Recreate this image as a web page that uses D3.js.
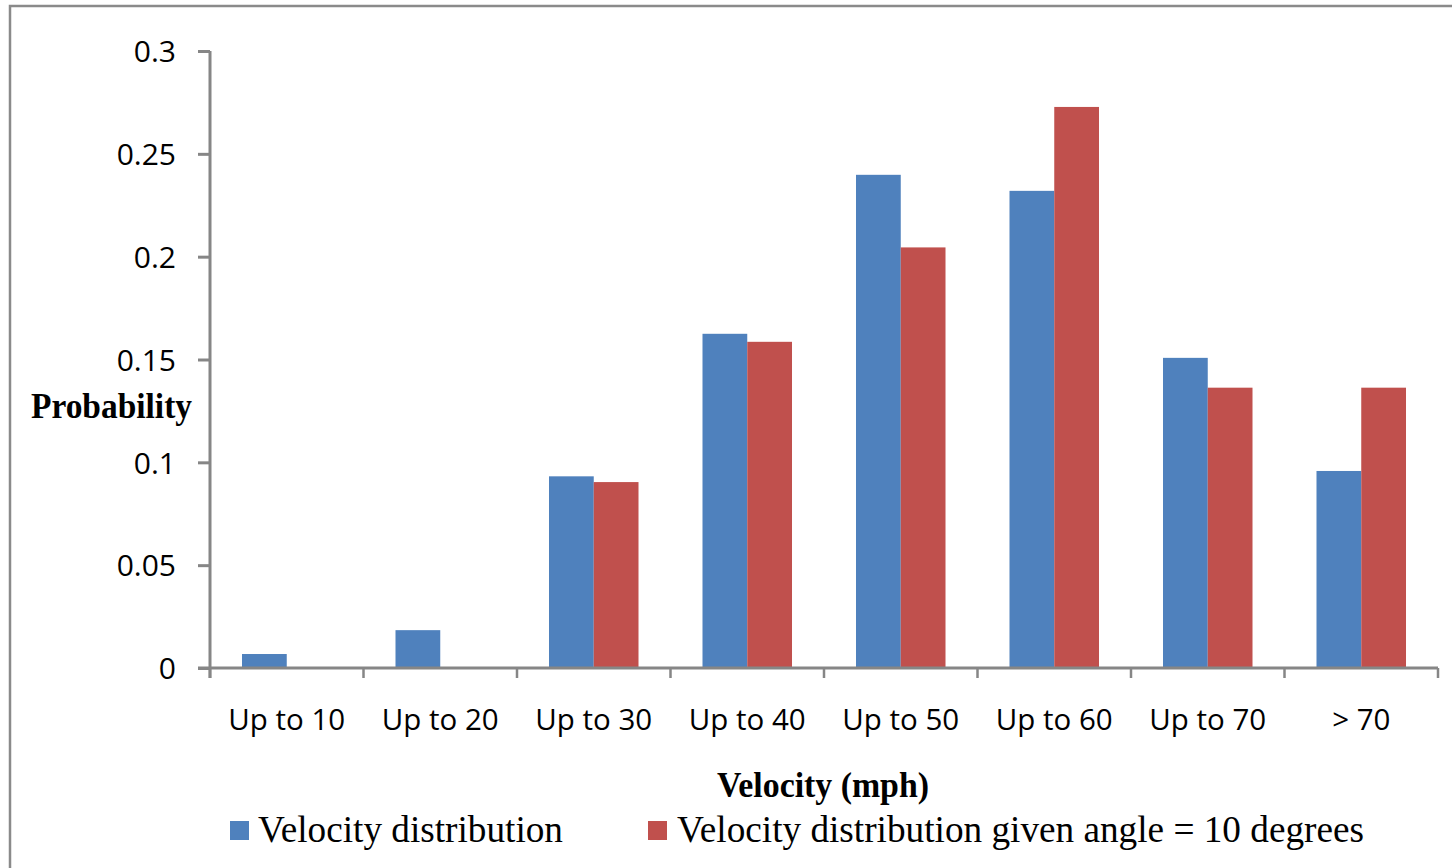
<!DOCTYPE html>
<html>
<head>
<meta charset="utf-8">
<script src="https://cdn.jsdelivr.net/npm/d3@7"></script>
<style>
  html, body { margin: 0; padding: 0; background: #fff; }
  svg { display: block; }
</style>
</head>
<body>
<svg id="chart" width="1452" height="868"></svg>
<script>
// Velocity bins and probabilities for the two distributions
const categories = ["Up to 10", "Up to 20", "Up to 30", "Up to 40", "Up to 50", "Up to 60", "Up to 70", "> 70"];
const seriesNames = ["Velocity distribution", "Velocity distribution given angle = 10 degrees"];
const velocityAll = [0.0068, 0.0184, 0.0932, 0.1625, 0.2398, 0.2320, 0.1508, 0.0958];
const velocityAngle10 = [0, 0, 0.0904, 0.1586, 0.2045, 0.2728, 0.1363, 0.1363];
const yTicks = [0, 0.05, 0.1, 0.15, 0.2, 0.25, 0.3];
const yTickLabels = ["0", "0.05", "0.1", "0.15", "0.2", "0.25", "0.3"];
const seriesColors = ["#4F81BD", "#C0504D"];

const svg = d3.select("#chart");
const axisColor = "#868686";
const tickFont = "'Open Sans', sans-serif";
const serifFont = "'Liberation Serif', 'Times New Roman', serif";

// outer chart frame (runs past the right and bottom edges)
svg.append("rect")
  .attr("x", 10).attr("y", 6)
  .attr("width", 1600).attr("height", 1000)
  .attr("fill", "none")
  .attr("stroke", "#8a8a8a")
  .attr("stroke-width", 2.5);

const plot = { left: 210, right: 1438, top: 51, bottom: 668 };

const x0 = d3.scaleBand().domain(categories).range([plot.left, plot.right]).paddingInner(0).paddingOuter(0);
const x1 = d3.scaleBand().domain(seriesNames).range([0, x0.bandwidth()]).paddingInner(0).paddingOuter(0.715);
const y = d3.scaleLinear().domain([0, 0.3]).range([plot.bottom, plot.top]);

// bars
const rows = categories.map((c, i) => ({ cat: c, vals: [velocityAll[i], velocityAngle10[i]] }));
const groups = svg.append("g").selectAll("g").data(rows).join("g")
  .attr("transform", d => `translate(${x0(d.cat)},0)`);
groups.selectAll("rect")
  .data(d => d.vals.map((v, k) => ({ name: seriesNames[k], v, k })))
  .join("rect")
  .attr("x", d => x1(d.name))
  .attr("width", x1.bandwidth())
  .attr("y", d => y(d.v))
  .attr("height", d => y(0) - y(d.v))
  .attr("fill", d => seriesColors[d.k]);

// y axis
const yAxis = svg.append("g")
  .attr("transform", `translate(${plot.left},0)`)
  .call(d3.axisLeft(y).tickValues(yTicks).tickFormat((d, i) => yTickLabels[i]).tickSize(12).tickPadding(22).tickSizeOuter(0));
yAxis.select(".domain").remove();
yAxis.selectAll(".tick line").attr("stroke", axisColor).attr("stroke-width", 3);
yAxis.selectAll(".tick text")
  .attr("font-family", tickFont).attr("font-size", 30).attr("fill", "#000").attr("dy", "0.36em");
svg.append("line")
  .attr("x1", plot.left).attr("x2", plot.left)
  .attr("y1", plot.top).attr("y2", plot.bottom + 10)
  .attr("stroke", axisColor).attr("stroke-width", 3);

// x axis
const xAxis = svg.append("g")
  .attr("transform", `translate(0,${plot.bottom})`)
  .call(d3.axisBottom(x0).tickSize(0).tickPadding(41));
xAxis.select(".domain").remove();
xAxis.selectAll(".tick text")
  .attr("font-family", tickFont).attr("font-size", 29.5).attr("fill", "#000");
svg.append("line")
  .attr("x1", plot.left - 12).attr("x2", plot.right)
  .attr("y1", plot.bottom).attr("y2", plot.bottom)
  .attr("stroke", axisColor).attr("stroke-width", 3);
// category boundary ticks
const boundaries = categories.map(c => x0(c)).concat([plot.right]);
svg.append("g").selectAll("line").data(boundaries).join("line")
  .attr("x1", d => d).attr("x2", d => d)
  .attr("y1", plot.bottom).attr("y2", plot.bottom + 10)
  .attr("stroke", axisColor).attr("stroke-width", 2.5);

// axis titles
svg.append("text")
  .attr("x", 31).attr("y", 418)
  .attr("font-family", serifFont).attr("font-weight", "bold").attr("font-size", 35)
  .attr("textLength", 161).attr("lengthAdjust", "spacingAndGlyphs")
  .text("Probability");
svg.append("text")
  .attr("x", 717).attr("y", 797)
  .attr("font-family", serifFont).attr("font-weight", "bold").attr("font-size", 35)
  .attr("textLength", 212).attr("lengthAdjust", "spacingAndGlyphs")
  .text("Velocity (mph)");

// legend
const legendItems = [
  { name: seriesNames[0], color: seriesColors[0], sx: 230, tx: 258, w: 305 },
  { name: seriesNames[1], color: seriesColors[1], sx: 648, tx: 677, w: 687 }
];
const legend = svg.append("g");
legend.selectAll("rect").data(legendItems).join("rect")
  .attr("x", d => d.sx).attr("y", 821).attr("width", 19).attr("height", 19)
  .attr("fill", d => d.color);
legend.selectAll("text").data(legendItems).join("text")
  .attr("x", d => d.tx).attr("y", 842)
  .attr("font-family", serifFont).attr("font-size", 37)
  .attr("textLength", d => d.w).attr("lengthAdjust", "spacingAndGlyphs")
  .text(d => d.name);
</script>
</body>
</html>
